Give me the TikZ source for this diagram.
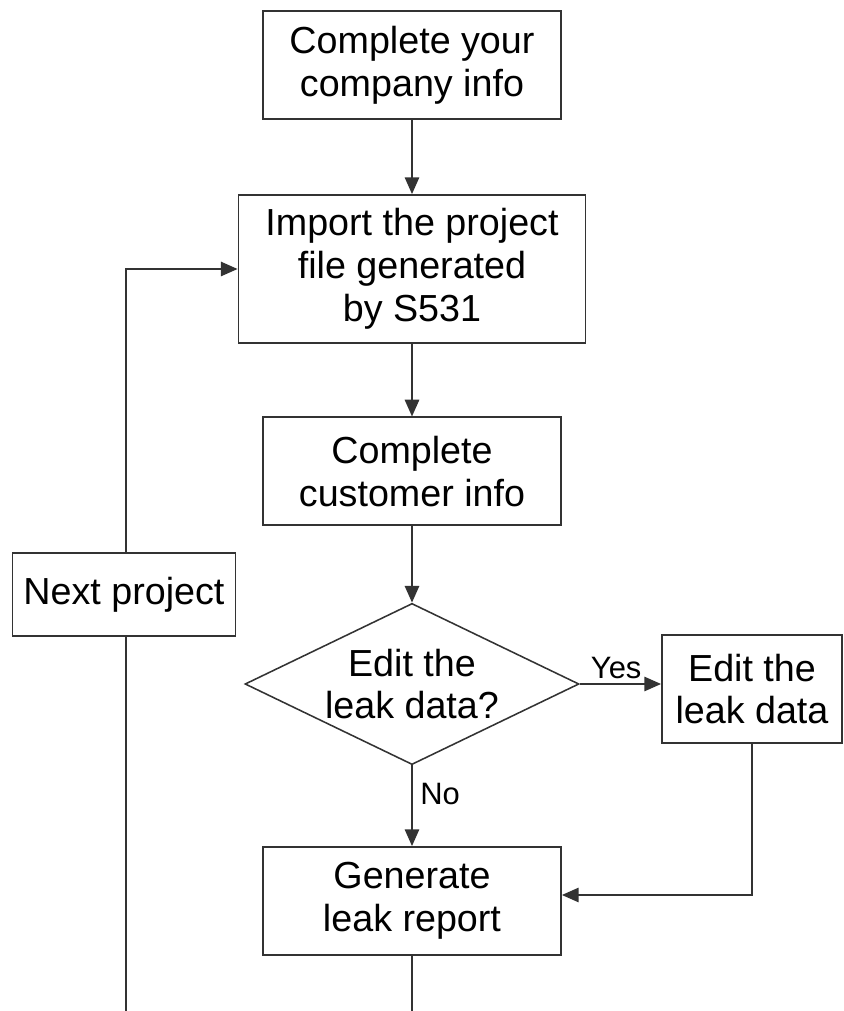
\documentclass[tikz,border=0pt]{standalone}
\usepackage{fontspec}
\setmainfont{Liberation Sans}
\usetikzlibrary{arrows.meta,shapes.geometric}
\definecolor{FlowLine}{HTML}{333333}

\begin{document}
\begin{tikzpicture}[
  every node/.style={font=\fontsize{26.8}{30.5}\selectfont},
  box/.style={draw=FlowLine, line width=1.3pt, align=center,
              minimum width=7.45cm, minimum height=2.7cm, inner sep=2pt},
  decide/.style={draw=FlowLine, line width=1.1pt, diamond, aspect=2.08,
                 align=center, inner sep=0pt,
                 minimum width=8.35cm, minimum height=4.03cm},
  lbl/.style={font=\fontsize{22}{26}\selectfont, text=black},
  arr/.style={-{Triangle[length=0.42cm, width=0.36cm]}, line width=1.3pt, FlowLine},
  ln/.style={line width=1.3pt, FlowLine},
]
\useasboundingbox (0,0) rectangle (21.1,25.275);

%% ── Main column ──────────────────────────────
\node[box] at (10.3, 23.65) (company) {Complete your\\company info};
\node[box, minimum width=8.675cm, minimum height=3.7cm]
           at (10.3, 18.55) (import)  {Import the project\\file generated\\by S531};
\node[box] at (10.3, 13.49) (customer) {Complete\\customer info};
\node[decide] at (10.3, 8.175) (ask)   {Edit the\\leak data?};
\node[box] at (10.3, 2.75) (report)    {Generate\\leak report};

%% ── Side boxes ───────────────────────────────
\node[box, minimum width=4.5cm] at (18.8, 8.05) (edit) {Edit the\\leak data};
\node[box, minimum width=5.575cm, minimum height=2.075cm]
           at (3.1, 10.41) (next) {Next project};

%% ── Loose ends at the bottom ─────────────────
\coordinate (outL) at (3.15, 0);
\coordinate (outM) at (10.3, 0);
\coordinate (back) at (17.0, 2.9);

%% ── Arrows down the column ───────────────────
\draw[arr] (company) -- (import);
\draw[arr] (import)  -- (customer);
\draw[arr] (customer) -- (ask);
\draw[arr] (ask) -- node[lbl, right, pos=0.35, xshift=2pt] {No} (report);
\draw[ln]  (report) -- (outM);

%% ── Yes branch ───────────────────────────────
\draw[arr] (ask.east) -- node[lbl, above, xshift=-3pt] {Yes} (ask.east -| edit.west);
\draw[arr] (edit.south) |- (back -| report.east);

%% ── Loop back to the next project ────────────
\draw[ln]  (outL) -- (outL |- next.south);
\draw[arr] (outL |- next.north) |- (import.west);

\end{tikzpicture}
\end{document}
